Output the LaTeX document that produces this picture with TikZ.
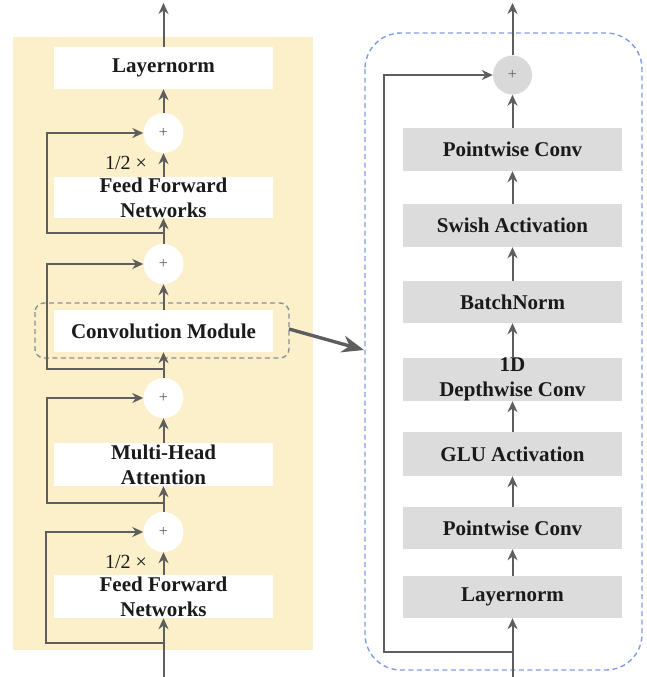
\documentclass[tikz,border=0pt]{standalone}
\usepackage{fontspec}
\setmainfont{Liberation Serif}
\usetikzlibrary{arrows.meta,calc}
\definecolor{ylw}{HTML}{FBF0C9}
\definecolor{lineg}{HTML}{5E5E5E}
\definecolor{boxg}{HTML}{DCDCDC}
\definecolor{circg}{HTML}{D9D9D9}
\definecolor{txt}{HTML}{1A1A1A}
\definecolor{dashg}{HTML}{8A909A}
\definecolor{dashb}{HTML}{7F9CE6}
\begin{document}
\begin{tikzpicture}[x=1pt,y=-1pt,
  arr/.style={draw=lineg, line width=2pt, -{Stealth[length=11pt,width=10pt]}},
  wbox/.style={fill=white, minimum width=219pt, minimum height=42pt, inner sep=0pt,
    font=\fontsize{21}{25}\selectfont\bfseries, text=txt, align=center},
  gbox/.style={wbox, fill=boxg},
  lbl/.style={font=\fontsize{21}{25}\selectfont\bfseries, text=txt, align=center, inner sep=0pt},
  wcirc/.style={circle, fill=white, minimum size=40pt, inner sep=0pt, font=\fontsize{16}{16}\selectfont, text=lineg},
  gcirc/.style={wcirc, fill=circg, minimum size=39pt},
  half/.style={font=\fontsize{20}{20}\selectfont, text=txt, inner sep=0pt}
]
\useasboundingbox (0,0) rectangle (646,677);
% backgrounds
\fill[ylw] (13,37) rectangle (313,650);
\draw[dashg, line width=1.4pt, dash pattern=on 5pt off 3.5pt, rounded corners=9pt] (35,303) rectangle (289,358);
\draw[dashb, line width=1.4pt, dash pattern=on 5pt off 3.5pt, rounded corners=36pt] (365,33) rectangle (642,670);

% left column
\node[wbox] (ln) at (163.5,68) {Layernorm};
\node[wcirc] (c1) at (163.5,133) {+};
\node[wbox, minimum height=41pt, label={[lbl]center:Feed Forward\\Networks}] (ffa) at (163.5,197.5) {};
\node[half] (ha) at (126,163) {1/2 ×};
\node[wcirc] (c2) at (163.5,264) {+};
\node[wbox] (conv) at (163.5,331) {Convolution Module};
\node[wcirc] (c3) at (163.5,398) {+};
\node[wbox, minimum height=43pt, label={[lbl]center:Multi-Head\\Attention}] (mha) at (163.5,464.5) {};
\node[wcirc] (c4) at (163.5,532) {+};
\node[half] (hb) at (126,562) {1/2 ×};
\node[wbox, minimum height=43pt, label={[lbl]center:Feed Forward\\Networks}] (ffb) at (163.5,596.5) {};

\coordinate (ltop) at (163.5,3);
\coordinate (lbot) at (163.5,677);
\coordinate (ra) at (163.5,233);
\coordinate (rb) at (163.5,369);
\coordinate (rc) at (163.5,503);
\coordinate (rd) at (163.5,643);

\draw[arr] (ln.north) -- (ltop);
\draw[arr] (c1.north) -- (ln.south);
\draw[arr] (ffa.north) -- (c1.south);
\draw[arr] (c2.north) -- (ffa.south);
\draw[arr] (conv.north) -- (c2.south);
\draw[arr] (c3.north) -- (conv.south);
\draw[arr] (mha.north) -- (c3.south);
\draw[arr] (c4.north) -- (mha.south);
\draw[arr] (ffb.north) -- (c4.south);
\draw[arr] (lbot) -- (ffb.south);

\draw[arr] (ra) -- (47,233) -- (47,133) -- (c1.west);
\draw[arr] (rb) -- (47,369) -- (47,264) -- (c2.west);
\draw[arr] (rc) -- (47,503) -- (47,398) -- (c3.west);
\draw[arr] (rd) -- (46,643) -- (46,532) -- (c4.west);

% link arrow
\coordinate (ls) at (289,329);
\coordinate (le) at (364,350);
\draw[draw=lineg, line width=3.4pt, -{Stealth[length=22pt,width=17pt]}] (ls) -- (le);

% right column
\node[gcirc] (rc0) at (512.5,75) {+};
\node[gbox, minimum height=43pt] (pw1) at (512.5,149.5) {Pointwise Conv};
\node[gbox, minimum height=43pt] (sw) at (512.5,225.5) {Swish Activation};
\node[gbox, minimum height=42pt] (bn) at (512.5,302) {BatchNorm};
\node[gbox, minimum height=43pt, label={[lbl]center:1D\\Depthwise Conv}] (dw) at (512.5,379.5) {};
\node[gbox, minimum height=44pt] (glu) at (512.5,454) {GLU Activation};
\node[gbox, minimum height=42pt] (pw2) at (512.5,528) {Pointwise Conv};
\node[gbox, minimum height=42pt] (rln) at (512.5,597) {Layernorm};

\coordinate (rtop) at (512.5,3);
\coordinate (rbot) at (512.5,677);
\coordinate (rres) at (512.5,652);

\draw[arr] (rc0.north) -- (rtop);
\draw[arr] (pw1.north) -- (rc0.south);
\draw[arr] (sw.north) -- (pw1.south);
\draw[arr] (bn.north) -- (sw.south);
\draw[arr] (dw.north) -- (bn.south);
\draw[arr] (glu.north) -- (dw.south);
\draw[arr] (pw2.north) -- (glu.south);
\draw[arr] (rln.north) -- (pw2.south);
\draw[arr] (rbot) -- (rln.south);
\draw[arr] (rres) -- (384,652) -- (384,75) -- (rc0.west);
\end{tikzpicture}
\end{document}
